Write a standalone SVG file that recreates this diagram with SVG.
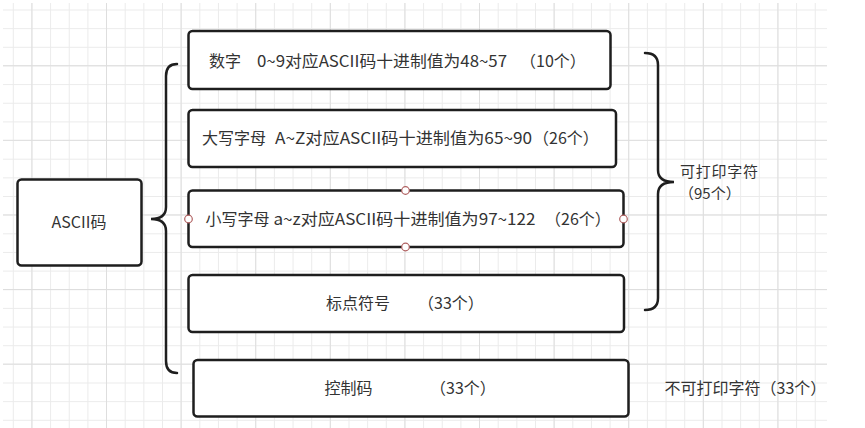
<svg xmlns="http://www.w3.org/2000/svg" width="865" height="428" viewBox="0 0 865 428">
<defs>
<pattern id="minor" patternUnits="userSpaceOnUse" x="12.8" y="9.5" width="18.65" height="18.65">
<path d="M0.5 0 V18.65 M0 0.5 H18.65" stroke="#ebebeb" stroke-width="1" fill="none"/>
</pattern>
<pattern id="major" patternUnits="userSpaceOnUse" x="31.4" y="-9.4" width="74.6" height="74.6">
<path d="M0.5 0 V74.6 M0 0.5 H74.6" stroke="#dedede" stroke-width="1" fill="none"/>
</pattern>
<style>
.box{fill:#fff;stroke:#1e1e1e;stroke-width:2.5}
.t{font-family:"Noto Sans CJK SC","Microsoft YaHei",sans-serif;font-size:16px;fill:#333}
.s{font-size:15px}
.brace{fill:none;stroke:#1e1e1e;stroke-width:2.5;stroke-linecap:round}
.pt{fill:#fff;stroke:#b06060;stroke-width:1.2}
</style>
</defs>
<rect width="865" height="428" fill="#fff"/>
<rect x="3" y="3" width="824" height="425" fill="url(#minor)"/>
<rect x="3" y="3" width="824" height="425" fill="url(#major)"/>

<g id="connectors">
<path class="brace" d="M177,64 Q166,64 166,76 L166,207 Q166,219 151,219 Q166,219 166,231 L166,361 Q166,373 177,373"/>
<path class="brace" d="M645,53 Q658,53 658,65 L658,170 Q658,182 674,182 Q658,182 658,194 L658,298 Q658,310 645,310"/>
</g>

<g id="node-ascii">
<rect class="box" x="17.5" y="179.5" width="124" height="86" rx="4"/>
<text class="t" x="79" y="228" text-anchor="middle">ASCII码</text>
</g>

<g id="node-digits">
<rect class="box" x="188.5" y="31" width="422" height="58" rx="4"/>
<text class="t" x="209" y="67">数字</text>
<text class="t" x="257" y="67" textLength="250" lengthAdjust="spacingAndGlyphs">0~9对应ASCII码十进制值为48~57</text>
<text class="t" x="520" y="67">（10个）</text>
</g>

<g id="node-upper">
<rect class="box" x="188.5" y="110" width="427.5" height="57" rx="4"/>
<text class="t" x="202" y="144">大写字母</text>
<text class="t" x="275" y="144" textLength="257" lengthAdjust="spacingAndGlyphs">A~Z对应ASCII码十进制值为65~90</text>
<text class="t" x="533" y="144">（26个）</text>
</g>

<g id="node-lower">
<rect class="box" x="188.5" y="190.5" width="435" height="56.5" rx="4"/>
<text class="t" x="205.5" y="225">小写字母</text>
<text class="t" x="273.5" y="225" textLength="262" lengthAdjust="spacingAndGlyphs">a~z对应ASCII码十进制值为97~122</text>
<text class="t" x="545" y="225">（26个）</text>
<circle class="pt" cx="405.5" cy="190.5" r="3.8"/>
<circle class="pt" cx="405.5" cy="247" r="3.8"/>
<circle class="pt" cx="188.5" cy="219" r="3.8"/>
<circle class="pt" cx="623.5" cy="219" r="3.8"/>
</g>

<g id="node-punct">
<rect class="box" x="188.5" y="275" width="435.5" height="57" rx="4"/>
<text class="t" x="326" y="309">标点符号</text>
<text class="t" x="418" y="309">（33个）</text>
</g>

<g id="node-control">
<rect class="box" x="193.5" y="360" width="435" height="56.5" rx="4"/>
<text class="t" x="324.5" y="394">控制码</text>
<text class="t" x="430" y="394">（33个）</text>
</g>

<g id="label-printable">
<text class="t s" x="680" y="177" textLength="78">可打印字符</text>
<text class="t s" x="679" y="199">（95个）</text>
</g>

<g id="label-nonprintable">
<text class="t" x="664.5" y="394">不可打印字符（33个）</text>
</g>
</svg>
